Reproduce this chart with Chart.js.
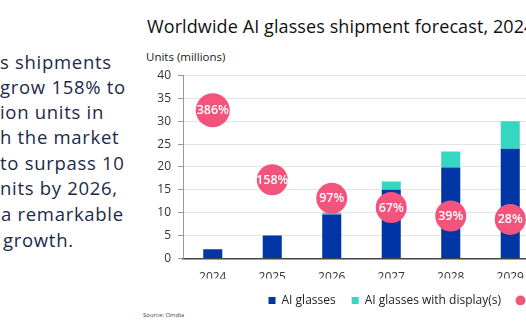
<!DOCTYPE html>
<html>
<head>
<meta charset="utf-8">
<script src="https://cdn.jsdelivr.net/npm/chart.js@4.4.1/dist/chart.umd.min.js"></script>
<style>
  html, body { margin: 0; padding: 0; width: 526px; height: 326px; overflow: hidden; background: #fff; }
  body { position: relative; font-family: "Open Sans", sans-serif; }
  .line { position: absolute; left: 0; color: #1b2a4a; font-size: 18.5px; letter-spacing: 0.7px; white-space: nowrap; line-height: 25px; }
  #title { position: absolute; left: 147px; top: 14px; font-size: 18px; letter-spacing: 0.1px; color: #111; white-space: nowrap; }
  #units { position: absolute; left: 146px; top: 49px; font-size: 11.5px; color: #222; white-space: nowrap; }
  #source { position: absolute; left: 143px; top: 311px; font-size: 6px; color: #444; white-space: nowrap; }
  #wrap { position: absolute; left: 130px; top: 60px; }
</style>
</head>
<body>
<div class="line" style="top:49px">s shipments</div>
<div class="line" style="top:74px">grow 158% to</div>
<div class="line" style="top:99px">ion units in</div>
<div class="line" style="top:124px">h the market</div>
<div class="line" style="top:150px">to surpass 10</div>
<div class="line" style="top:175px">nits by 2026,</div>
<div class="line" style="top:201px; left:1px">a remarkable</div>
<div class="line" style="top:227px; left:3px">growth.</div>
<div id="title">Worldwide AI glasses shipment forecast, 2024-2029</div>
<div id="units">Units (millions)</div>
<div id="source">Source: Omdia</div>
<div id="wrap"><canvas id="shipChart" width="606" height="260"></canvas></div>

<script>
const years = ['2024', '2025', '2026', '2027', '2028', '2029'];
const aiGlasses = [2.0, 5.0, 9.6, 15.0, 19.9, 24.0];
const aiGlassesDisplay = [0, 0, 0.4, 1.8, 3.5, 6.0];
const growthPct = [386, 158, 97, 67, 39, 28];

Chart.defaults.font.family = '"Open Sans", sans-serif';

// white percentage text inside the growth bubbles
const bubbleLabels = {
    id: 'bubbleLabels',
    afterDatasetsDraw(chart) {
        const meta = chart.getDatasetMeta(2);
        const ctx = chart.ctx;
        ctx.save();
        ctx.fillStyle = '#ffffff';
        ctx.font = '600 12.5px "Open Sans", sans-serif';
        ctx.textAlign = 'center';
        ctx.textBaseline = 'middle';
        meta.data.forEach((pt, i) => {
            ctx.fillText(growthPct[i] + '%', pt.x, pt.y + 0.5);
        });
        ctx.restore();
    }
};

const ctx = document.getElementById('shipChart').getContext('2d');
new Chart(ctx, {
    data: {
        labels: years,
        datasets: [
            {
                type: 'bar',
                label: 'AI glasses',
                data: aiGlasses,
                backgroundColor: '#0035a5',
                borderWidth: 0,
                pointStyle: 'rect',
                categoryPercentage: 1.0,
                barPercentage: 0.32,
                stack: 's'
            },
            {
                type: 'bar',
                label: 'AI glasses with display(s)',
                data: aiGlassesDisplay,
                backgroundColor: '#36d6c3',
                borderWidth: 0,
                pointStyle: 'rect',
                categoryPercentage: 1.0,
                barPercentage: 0.32,
                stack: 's'
            },
            {
                type: 'line',
                label: 'Growth rate',
                data: growthPct,
                yAxisID: 'y2',
                showLine: false,
                order: -1,
                pointStyle: 'circle',
                pointRadius: [17, 15.5, 15.5, 15.5, 15.5, 15.5],
                pointBackgroundColor: '#f2547b',
                backgroundColor: '#f2547b',
                borderColor: '#f2547b',
                pointBorderWidth: 0,
                borderWidth: 0
            }
        ]
    },
    options: {
        responsive: false,
        animation: false,
        layout: {
            autoPadding: false,
            padding: {left: 0, top: 15.5, right: 0, bottom: 3.6}
        },
        scales: {
            x: {
                stacked: true,
                grid: {display: false, drawTicks: false},
                border: {display: true, color: '#444444', width: 1.5},
                ticks: {color: '#333333', font: {size: 12}, padding: 12},
                afterFit: function (scale) { scale.height = 20; }
            },
            y: {
                stacked: true,
                min: 0,
                max: 40,
                ticks: {stepSize: 5, color: '#333333', font: {size: 12}, padding: 7},
                grid: {color: '#e4e4e4', tickColor: '#999999', tickLength: 5},
                border: {color: '#9a9a9a'},
                afterFit: function (scale) { scale.width = 53; }
            },
            y2: {
                position: 'right',
                min: -100,
                max: 500,
                ticks: {display: false},
                grid: {display: false, drawTicks: false},
                border: {display: false},
                afterFit: function (scale) { scale.width = 196; }
            }
        },
        plugins: {
            legend: {
                position: 'bottom',
                labels: {
                    usePointStyle: true,
                    boxWidth: 7,
                    boxHeight: 7,
                    padding: 16,
                    color: '#222222',
                    font: {size: 12},
                    sort: function (a, b) { return a.datasetIndex - b.datasetIndex; }
                }
            },
            tooltip: {enabled: false}
        }
    },
    plugins: [bubbleLabels]
});
</script>
</body>
</html>
